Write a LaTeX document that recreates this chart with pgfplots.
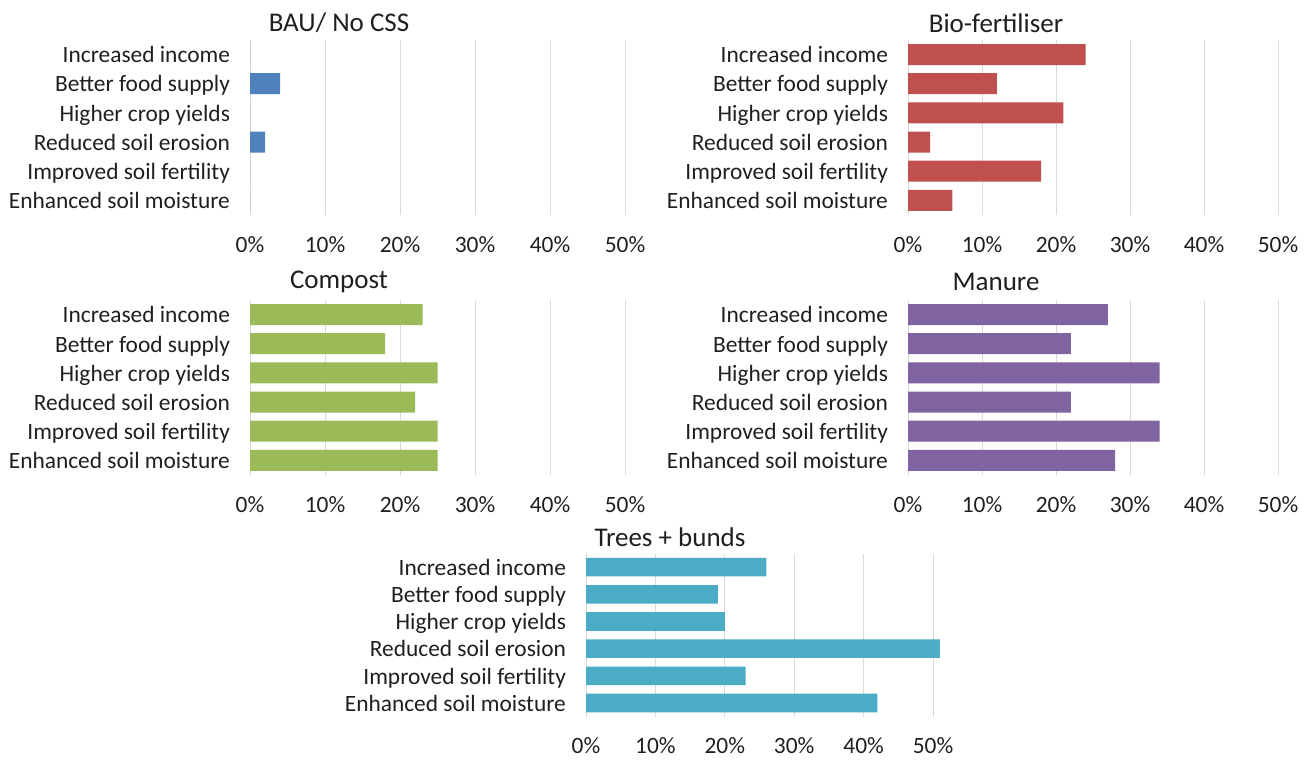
\documentclass[border=0pt]{standalone}
\usepackage{fontspec}
\setmainfont{Carlito}
\usepackage{pgfplots}
\pgfplotsset{compat=1.18}

\definecolor{cBAU}{HTML}{4F81BD}
\definecolor{cBio}{HTML}{C0504D}
\definecolor{cCompost}{HTML}{9BBB59}
\definecolor{cManure}{HTML}{8064A2}
\definecolor{cTrees}{HTML}{4BACC6}
\definecolor{gridgray}{HTML}{D9D9D9}

\pgfplotsset{
  panel/.style={
    xbar, scale only axis, anchor=south west, clip=false,
    xmin=0, xmax=50, ymin=-0.5, ymax=5.5, y dir=reverse,
    axis x line*=bottom, axis y line*=left,
    axis line style={draw=none}, major tick length=0pt,
    xtick={0,10,...,50}, xmajorgrids,
    grid style={color=gridgray, line width=0.45pt},
    ytick={0,...,5},
    yticklabels={Increased income, Better food supply, Higher crop yields,
      Reduced soil erosion, Improved soil fertility, Enhanced soil moisture},
    xticklabel={\pgfmathprintnumber{\tick}\%},
    /pgf/number format/assume math mode=true,
    tick label style={font=\fontsize{11.7}{14}\selectfont, text=black!88},
    xticklabel style={yshift=-7pt},
    yticklabel style={xshift=-6.5pt, yshift=-1.5pt, text height=1.55ex, text depth=0.45ex},
  },
  toprow/.style={panel, width=187.5pt, height=87.5pt, bar width=10.5pt},
}

\begin{document}
\begin{tikzpicture}
\path (0,0) rectangle (655pt,378pt);
\tikzset{ptitle/.style={font=\fontsize{13.5}{16}\selectfont, text=black!88}}

% BAU / No CSS
\begin{axis}[toprow, at={(125pt,270.5pt)}]
  \addplot[fill=cBAU, draw=none] coordinates {
    (0,0) (4,1) (0,2) (2,3) (0,4) (0,5)
  };
\end{axis}
\node[ptitle] at (169.5pt,366.5pt) {BAU/ No CSS};

% Bio-fertiliser
\begin{axis}[toprow, width=185pt, at={(454pt,270.5pt)}]
  \addplot[fill=cBio, draw=none] coordinates {
    (24,0) (12,1) (21,2) (3,3) (18,4) (6,5)
  };
\end{axis}
\node[ptitle] at (498pt,366.5pt) {Bio-fertiliser};

% Compost
\begin{axis}[toprow, at={(125pt,140.5pt)}]
  \addplot[fill=cCompost, draw=none] coordinates {
    (23,0) (18,1) (25,2) (22,3) (25,4) (25,5)
  };
\end{axis}
\node[ptitle] at (169.5pt,237pt) {Compost};

% Manure
\begin{axis}[toprow, width=185pt, at={(454pt,140.5pt)}]
  \addplot[fill=cManure, draw=none] coordinates {
    (27,0) (22,1) (34,2) (22,3) (34,4) (28,5)
  };
\end{axis}
\node[ptitle] at (498pt,237pt) {Manure};

% Trees + bunds
\begin{axis}[panel, width=173.5pt, height=81.5pt, bar width=9.3pt, at={(293pt,19.7pt)}]
  \addplot[fill=cTrees, draw=none] coordinates {
    (26,0) (19,1) (20,2) (51,3) (23,4) (42,5)
  };
\end{axis}
\node[ptitle] at (335pt,109.5pt) {Trees + bunds};
\end{tikzpicture}
\end{document}
